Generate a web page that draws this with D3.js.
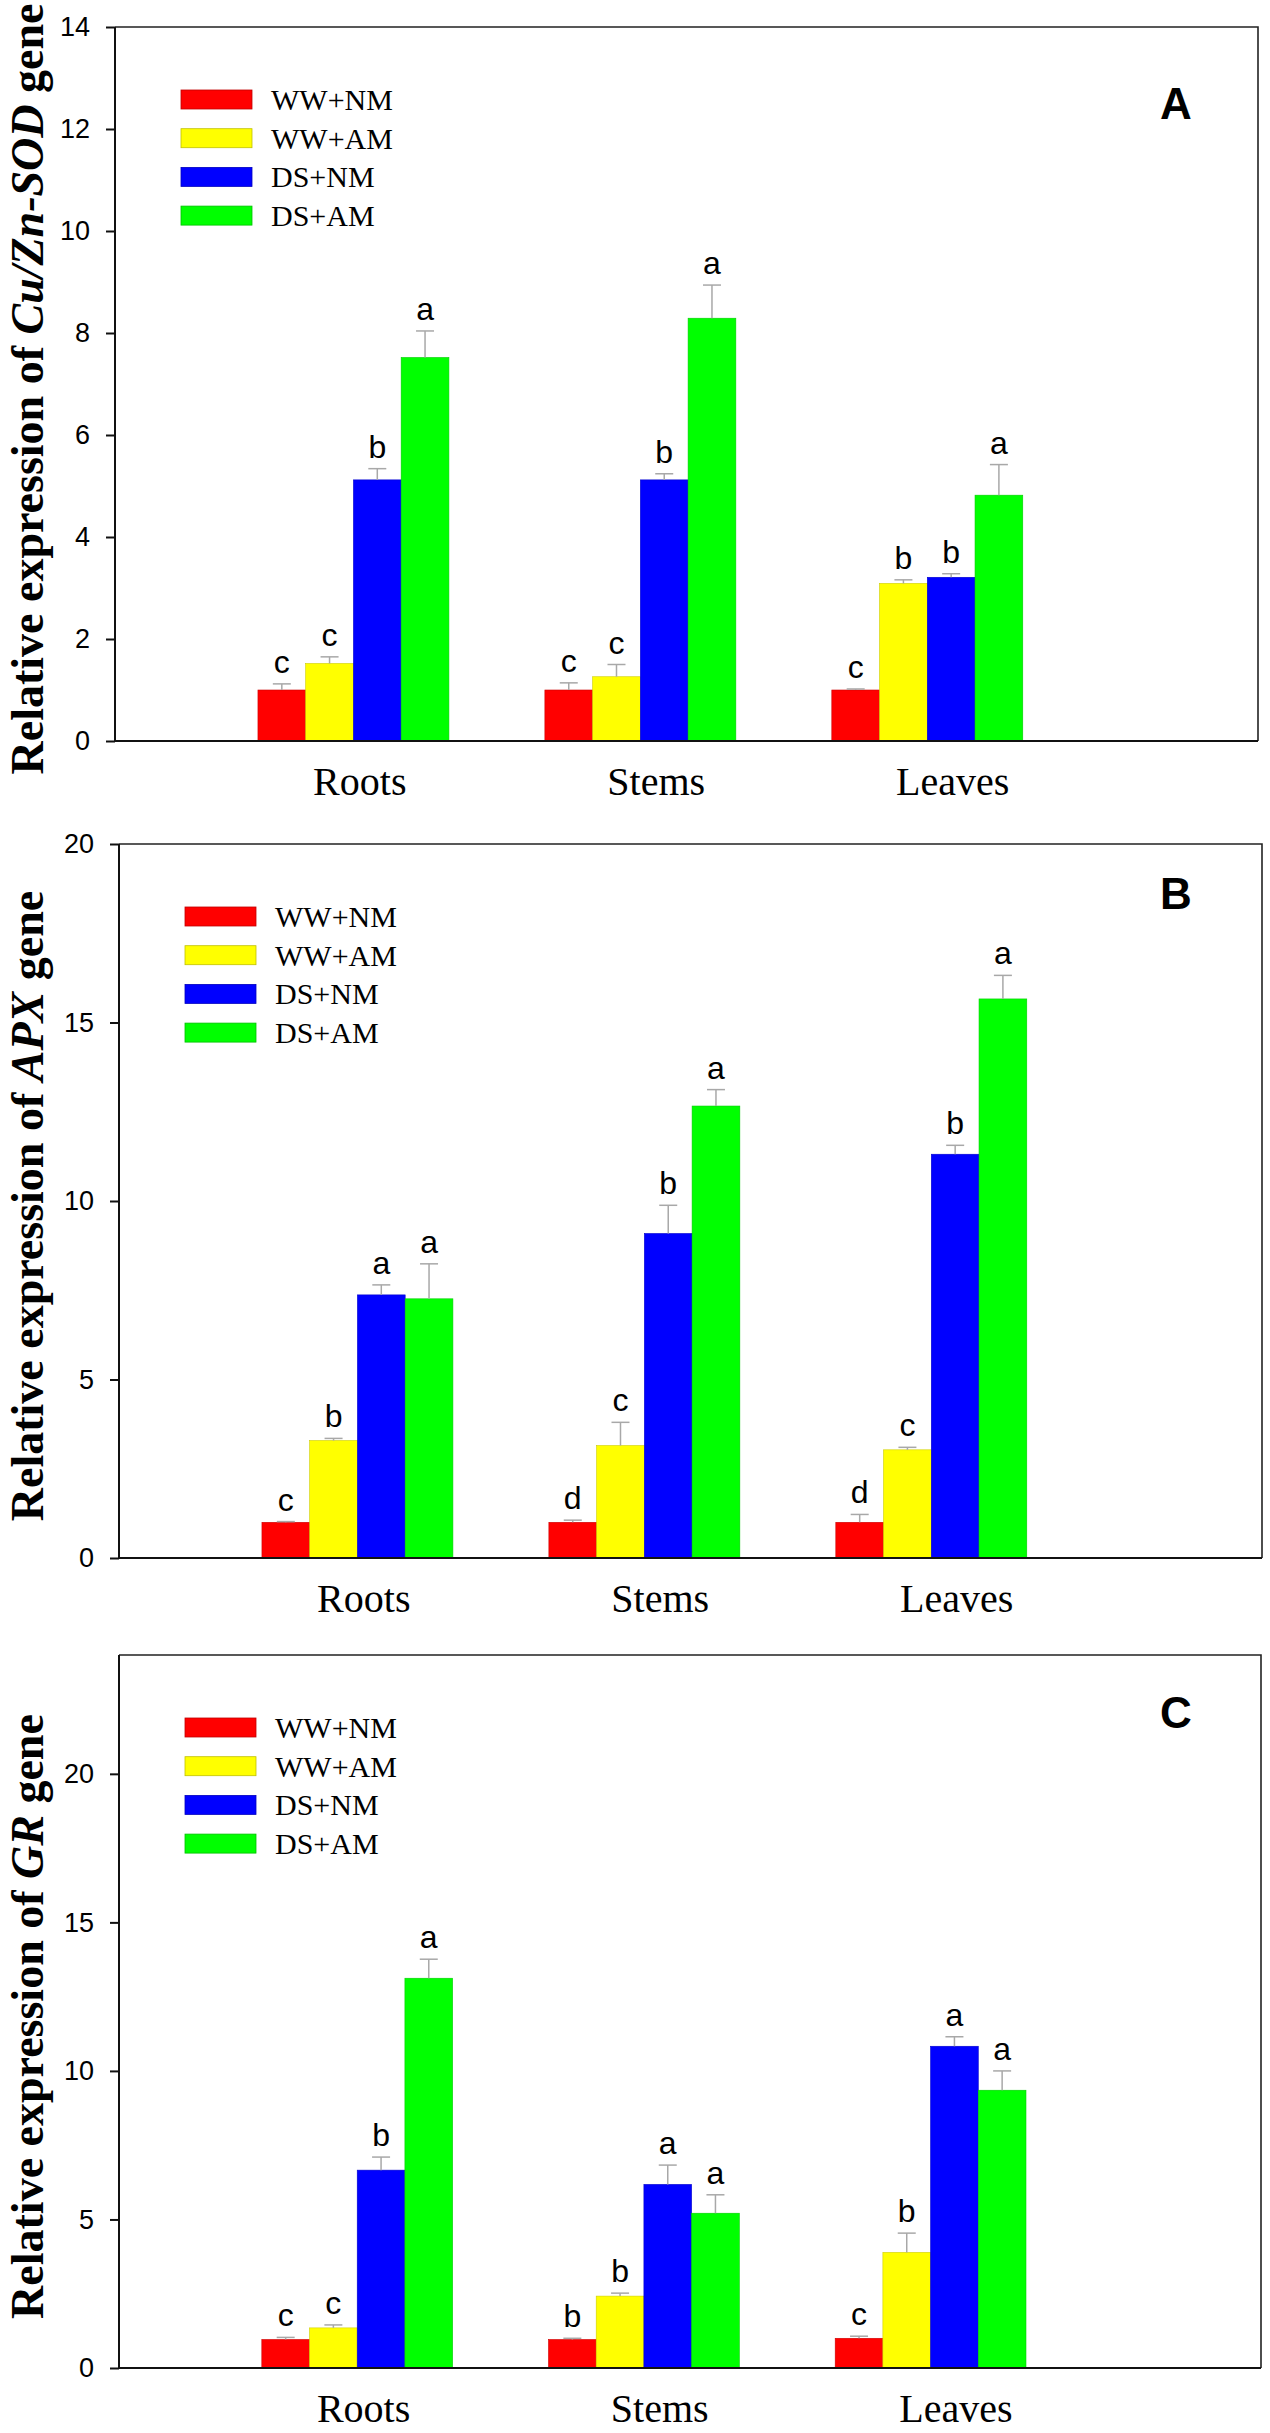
<!DOCTYPE html>
<html>
<head>
<meta charset="utf-8">
<script src="https://cdn.jsdelivr.net/npm/d3@7"></script>
<style>
  body { margin: 0; background: #fff; }
</style>
</head>
<body>
<div id="chart"></div>
<script>
// data
const categories = ['Roots', 'Stems', 'Leaves'];
const series = ['WW+NM', 'WW+AM', 'DS+NM', 'DS+AM'];
const colors = ['#ff0000', '#ffff00', '#0000ff', '#00ff00'];

// Cu/Zn-SOD (panel A), one row per series, one column per tissue
const sodMeans = [[1.00, 1.00, 1.00], [1.52, 1.26, 3.09], [5.12, 5.12, 3.21], [7.52, 8.29, 4.82]];
const sodErrors = [[0.12, 0.14, 0.02], [0.13, 0.24, 0.07], [0.22, 0.12, 0.07], [0.52, 0.65, 0.60]];
const sodLetters = [['c', 'c', 'c'], ['c', 'c', 'b'], ['b', 'b', 'b'], ['a', 'a', 'a']];
const sodTicks = [0, 2, 4, 6, 8, 10, 12, 14];

// APX (panel B)
const apxMeans = [[1.00, 1.00, 1.00], [3.29, 3.15, 3.03], [7.37, 9.09, 11.31], [7.26, 12.66, 15.66]];
const apxErrors = [[0.02, 0.06, 0.22], [0.06, 0.65, 0.07], [0.28, 0.79, 0.25], [0.98, 0.46, 0.66]];
const apxLetters = [['c', 'd', 'd'], ['b', 'c', 'c'], ['a', 'b', 'b'], ['a', 'a', 'a']];
const apxTicks = [0, 5, 10, 15, 20];

// GR (panel C)
const grMeans = [[0.96, 0.96, 1.00], [1.35, 2.42, 3.89], [6.66, 6.18, 10.83], [13.12, 5.21, 9.35]];
const grErrors = [[0.07, 0.04, 0.07], [0.10, 0.10, 0.65], [0.44, 0.65, 0.32], [0.64, 0.62, 0.65]];
const grLetters = [['c', 'b', 'c'], ['c', 'b', 'b'], ['b', 'a', 'a'], ['a', 'a', 'a']];
const grTicks = [0, 5, 10, 15, 20];

const W = 1270, H = 2433;
const serif = '"Liberation Serif", "Times New Roman", serif',
    sans = 'Arial, "Liberation Sans", sans-serif';

const svg = d3.select('#chart').append('svg')
    .attr('width', W)
    .attr('height', H)
    .style('background', '#fff');

const panels = [
  {tag: 'A', gene: 'Cu/Zn-SOD', means: sodMeans, errors: sodErrors, letters: sodLetters, ticks: sodTicks, yMax: 14,
   top: 27, bottom: 741, left: 115, right: 1258, tagDy: 92},
  {tag: 'B', gene: 'APX', means: apxMeans, errors: apxErrors, letters: apxLetters, ticks: apxTicks, yMax: 20,
   top: 844, bottom: 1558, left: 119, right: 1262, tagDy: 65},
  {tag: 'C', gene: 'GR', means: grMeans, errors: grErrors, letters: grLetters, ticks: grTicks, yMax: 24,
   top: 1655, bottom: 2368, left: 119, right: 1261, tagDy: 73}
];

panels.forEach(function(p) {
  const g = svg.append('g');

  const y = d3.scaleLinear().domain([0, p.yMax]).range([p.bottom, p.top]);

  // bar groups sit a bit left of the category labels, as in the original
  const x0 = d3.scaleBand().domain(categories).range([p.left, p.right])
      .paddingInner(0.3345).paddingOuter(0.659).align(0.378);
  const x1 = d3.scaleBand().domain(series).range([0, x0.bandwidth()]);
  const xl = d3.scalePoint().domain(categories).range([p.left, p.right])
      .padding(0.928).align(0.444);

  // bars
  series.forEach(function(s, si) {
    const rows = categories.map((c, ci) => ({
      c: c, v: p.means[si][ci], e: p.errors[si][ci], l: p.letters[si][ci]
    }));
    const cx = d => x0(d.c) + x1(s) + x1.bandwidth() / 2;

    g.selectAll(null).data(rows).enter().append('rect')
        .attr('x', d => x0(d.c) + x1(s))
        .attr('y', d => y(d.v))
        .attr('width', x1.bandwidth())
        .attr('height', d => y(0) - y(d.v))
        .attr('fill', colors[si])
        .attr('stroke', d3.color(colors[si]).darker(0.6))
        .attr('stroke-width', 0.6);

    // error bars (upper only)
    g.selectAll(null).data(rows).enter().append('line')
        .attr('x1', cx).attr('x2', cx)
        .attr('y1', d => y(d.v)).attr('y2', d => y(d.v + d.e))
        .attr('stroke', '#a8a8a8').attr('stroke-width', 1.5);
    g.selectAll(null).data(rows).enter().append('line')
        .attr('x1', d => cx(d) - 9).attr('x2', d => cx(d) + 9)
        .attr('y1', d => y(d.v + d.e)).attr('y2', d => y(d.v + d.e))
        .attr('stroke', '#a8a8a8').attr('stroke-width', 1.5);

    // significance letters
    g.selectAll(null).data(rows).enter().append('text')
        .attr('x', cx)
        .attr('y', d => y(d.v + d.e) - 11)
        .attr('text-anchor', 'middle')
        .style('font-family', sans)
        .style('font-size', '32px')
        .text(d => d.l);
  });

  // y axis
  const ya = g.append('g')
      .attr('transform', 'translate(' + p.left + ',0)')
      .call(d3.axisLeft(y).tickValues(p.ticks).tickSize(9).tickPadding(16));
  ya.select('.domain').remove();
  ya.selectAll('line').attr('stroke', '#111').attr('stroke-width', 2);
  ya.selectAll('text')
      .style('font-family', sans)
      .style('font-size', '27px')
      .attr('fill', '#000');

  // x axis labels
  const xa = g.append('g')
      .attr('transform', 'translate(0,' + p.bottom + ')')
      .call(d3.axisBottom(xl).tickSize(0).tickPadding(26));
  xa.select('.domain').remove();
  xa.selectAll('text')
      .style('font-family', serif)
      .style('font-size', '40px')
      .attr('fill', '#000');

  // frame
  g.append('path')
      .attr('d', 'M' + p.left + ',' + p.top + 'H' + p.right + 'V' + p.bottom)
      .attr('fill', 'none').attr('stroke', '#222').attr('stroke-width', 1.6);
  g.append('path')
      .attr('d', 'M' + p.left + ',' + p.top + 'V' + p.bottom + 'H' + p.right)
      .attr('fill', 'none').attr('stroke', '#111').attr('stroke-width', 2);

  // y title
  const cy = (p.top + p.bottom) / 2 + 5;
  const title = g.append('text')
      .attr('transform', 'translate(43,' + cy + ') rotate(-90)')
      .attr('text-anchor', 'middle')
      .style('font-family', serif)
      .style('font-size', '46px')
      .style('font-weight', 'bold');
  title.append('tspan').text('Relative expression of ');
  title.append('tspan').style('font-style', 'italic').text(p.gene);
  title.append('tspan').text(' gene');

  // panel tag
  g.append('text')
      .attr('x', 1176)
      .attr('y', p.top + p.tagDy)
      .attr('text-anchor', 'middle')
      .style('font-family', sans)
      .style('font-size', '44px')
      .style('font-weight', 'bold')
      .text(p.tag);

  // legend
  const lg = g.append('g')
      .attr('transform', 'translate(' + (p.left + 66) + ',' + (p.top + 63) + ')');
  const item = lg.selectAll(null).data(series).enter().append('g')
      .attr('transform', (d, i) => 'translate(0,' + (i * 38.7) + ')');
  item.append('rect')
      .attr('width', 71).attr('height', 19)
      .attr('fill', (d, i) => colors[i])
      .attr('stroke', (d, i) => d3.color(colors[i]).darker(0.8))
      .attr('stroke-width', 0.8);
  item.append('text')
      .attr('x', 90).attr('y', 20)
      .style('font-family', serif)
      .style('font-size', '30px')
      .text(d => d);
});
</script>
</body>
</html>
